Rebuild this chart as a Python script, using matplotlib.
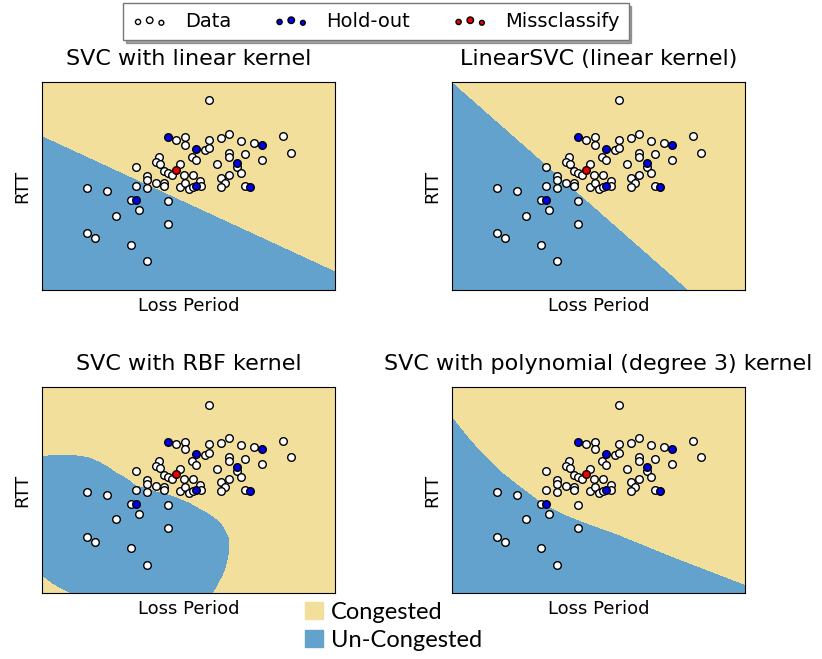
import numpy as np
import matplotlib.pyplot as plt
from matplotlib.patches import Patch
from matplotlib.collections import PathCollection
from matplotlib.legend_handler import HandlerPathCollection

# training points (white), axes span 0..10
data_x = [5.69, 4.56, 4.87, 4.87, 5.69, 6.11, 6.39, 6.80, 7.24, 8.21, 8.49, 5.56, 5.70,
          5.13, 5.26, 4.01, 3.88, 4.04, 3.20, 4.71, 4.16, 4.30, 4.45, 4.85, 5.15, 3.58,
          3.58, 3.90, 4.16, 4.16, 3.20, 3.58, 4.70, 4.87, 5.01, 5.15, 5.41, 5.44, 5.96,
          6.39, 6.39, 6.67, 6.94, 7.51, 6.11, 6.39, 6.80, 6.25, 6.11, 6.94, 1.54, 2.22,
          3.05, 4.29, 3.30, 2.51, 4.29, 1.54, 1.81, 3.05, 3.58]
data_y = [9.12, 7.22, 7.35, 6.98, 7.22, 7.29, 7.51, 7.17, 7.08, 7.40, 6.61, 6.71, 6.82,
          6.39, 6.23, 6.42, 6.15, 6.07, 5.92, 6.04, 5.71, 5.63, 5.54, 5.52, 5.55, 5.47,
          5.31, 5.17, 5.15, 4.99, 5.02, 4.90, 4.94, 5.14, 4.86, 4.94, 5.26, 4.98, 6.04,
          6.58, 6.39, 5.91, 6.52, 6.24, 5.41, 5.55, 5.62, 5.15, 4.94, 4.99, 4.90, 4.78,
          4.33, 4.27, 3.85, 3.58, 3.16, 2.74, 2.49, 2.18, 1.38]

# hold-out points (blue)
hold_x = [4.29, 5.25, 7.51, 6.65, 5.25, 7.09, 3.20]
hold_y = [7.35, 6.76, 6.97, 6.10, 5.02, 4.94, 4.32]

# misclassified point (red)
miss_x = [4.56]
miss_y = [5.78]

# decision boundaries
lin_bx, lin_by = [0, 10], [7.43, 0.93]
lsvc_bx, lsvc_by = [0, 10], [10.03, -2.37]
poly_bx = [0, 0.61, 1.07, 1.64, 2.21, 2.89, 3.34, 3.91, 4.48, 5.05, 5.62, 7.55, 10]
poly_by = [8.60, 7.51, 6.78, 5.97, 5.33, 4.60, 4.19, 3.79, 3.46, 3.17, 2.88, 1.76, 0.42]
rbf_bx = [-1.0, 0.0, 0.57, 1.61, 2.52, 3.21, 3.90, 4.70, 5.39, 6.08, 6.40, 6.36, 6.08,
          5.85, 5.30, 1.50, 0.92, 0.0, -1.0]
rbf_by = [6.8, 6.66, 6.74, 6.61, 5.89, 5.24, 4.95, 4.60, 4.11, 3.47, 2.66, 1.69, 0.56,
          0.0, -1.0, -0.6, 0.0, 0.81, 1.7]

titles = ['SVC with linear kernel', 'LinearSVC (linear kernel)',
          'SVC with RBF kernel', 'SVC with polynomial (degree 3) kernel']

yellow = '#f2df9b'
blue = '#63a2cc'

xx, yy = np.meshgrid(np.linspace(0, 10, 600), np.linspace(0, 10, 600))


def line_z(bx, by):
    return yy - np.interp(xx, bx, by)


def blob_z(bx, by, cx=2.5, cy=3.0):
    bx, by = np.array(bx), np.array(by)
    ang = np.arctan2(by - cy, bx - cx)
    rad = np.hypot(bx - cx, by - cy)
    order = np.argsort(ang)
    t = np.arctan2(yy - cy, xx - cx)
    r = np.hypot(xx - cx, yy - cy)
    return r - np.interp(t, ang[order], rad[order], period=2 * np.pi)


zs = [line_z(lin_bx, lin_by), line_z(lsvc_bx, lsvc_by),
      blob_z(rbf_bx, rbf_by), line_z(poly_bx, poly_by)]

fig = plt.figure(figsize=(8.22, 6.59), dpi=100)
positions = [[0.0511, 0.5599, 0.3564, 0.3156], [0.5499, 0.5599, 0.3564, 0.3156],
             [0.0511, 0.1002, 0.3564, 0.3125], [0.5499, 0.1002, 0.3564, 0.3125]]

for pos, title, z in zip(positions, titles, zs):
    ax = fig.add_axes(pos)
    ax.contourf(xx, yy, z, levels=[-100, 0, 100], colors=[blue, yellow])
    d = ax.scatter(data_x, data_y, s=30, c='white', edgecolors='k', linewidths=1.0, zorder=3)
    h = ax.scatter(hold_x, hold_y, s=30, c='#0000ee', edgecolors='k', linewidths=1.0, zorder=4)
    m = ax.scatter(miss_x, miss_y, s=30, c='#ee0000', edgecolors='k', linewidths=1.0, zorder=5)
    ax.set_xlim(0, 10)
    ax.set_ylim(0, 10)
    ax.set_xticks(())
    ax.set_yticks(())
    ax.set_xlabel('Loss Period', fontsize=13, labelpad=5)
    ax.set_ylabel('RTT', fontsize=13, labelpad=8)
    ax.set_title(title, fontsize=16, pad=12)

fig.legend([d, h, m], ['Data', 'Hold-out', 'Missclassify'], ncol=3, loc='upper center',
           bbox_to_anchor=(0.4574, 0.995), fontsize=14, scatterpoints=3, shadow=True,
           fancybox=False, columnspacing=2.2, handlelength=1.8, handletextpad=0.9,
           borderpad=0.45, borderaxespad=0.0, edgecolor='#777777',
           handler_map={PathCollection: HandlerPathCollection(sizes=[14, 22, 12])})

fig.legend([Patch(color=yellow), Patch(color=blue)], ['Congested', 'Un-Congested'],
           loc='upper left', bbox_to_anchor=(0.357, 0.105), frameon=False,
           prop={'family': 'Lato', 'size': 17}, handlelength=0.75, handleheight=0.75,
           handletextpad=0.35, labelspacing=0.3, borderpad=0.0)

fig.savefig('out.png', dpi=100)
